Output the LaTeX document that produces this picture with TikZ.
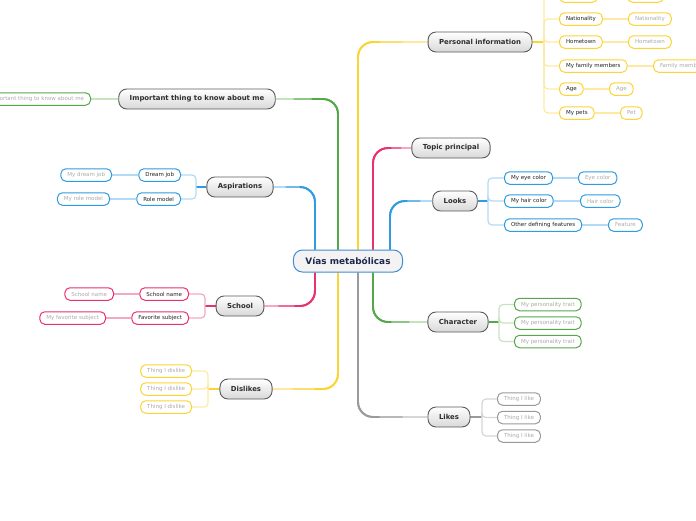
\documentclass[tikz,border=0pt]{standalone}
\usepackage{fontspec}
\setmainfont{DejaVu Sans}
\usetikzlibrary{backgrounds}
\definecolor{ylw}{HTML}{FBD535}
\definecolor{ylwL}{HTML}{FDE9A4}
\definecolor{grn}{HTML}{55A84A}
\definecolor{grnL}{HTML}{C6E3BF}
\definecolor{blu}{HTML}{2F9BE0}
\definecolor{bluL}{HTML}{B2DAF6}
\definecolor{pnk}{HTML}{E8316E}
\definecolor{pnkL}{HTML}{F6A8C3}
\definecolor{gry}{HTML}{9A9A9A}
\definecolor{gryL}{HTML}{D6D6D6}
\definecolor{mainBd}{HTML}{5A5A5A}
\definecolor{mainBot}{HTML}{D8D8D8}
\definecolor{mainTxt}{HTML}{2E2E2E}
\definecolor{subTxt}{HTML}{222222}
\definecolor{leafTxt}{HTML}{ABABAB}
\definecolor{cenBd}{HTML}{3C8FD2}
\definecolor{cenFill}{HTML}{F4F2F2}
\definecolor{cenTxt}{HTML}{1B2A4E}
\tikzset{
  mainbox/.style={rounded corners=8, draw=mainBd, top color=white, bottom color=mainBot,
    line width=0.9, font=\fontsize{6.9}{8}\selectfont\bfseries, text=mainTxt,
    inner xsep=11, inner ysep=0, minimum height=20},
  cenbox/.style={rounded corners=9, draw=cenBd, fill=cenFill, line width=1,
    font=\fontsize{8.9}{10}\selectfont\bfseries, text=cenTxt, inner xsep=12, minimum height=22, inner ysep=0},
  subbox/.style={rounded corners=5, draw=#1, fill=white, line width=1,
    font=\fontsize{5.5}{6}\selectfont, text=subTxt, inner xsep=6.5, inner ysep=0, minimum height=12.5},
  leafbox/.style={subbox=#1, text=leafTxt},
  trunk/.style={line width=1.9, rounded corners=15},
  twig/.style={line width=1.2, rounded corners=4},
}
% three-step trunk: light, mid, strong
\newcommand{\mytrunk}[4]{%
  \draw[trunk, #1L] #2;
  \draw[trunk, #1!50!#1L, shorten >=#3] #2;
  \draw[trunk, #1, shorten >=#4] #2;}
\begin{document}
\begin{tikzpicture}[x=1pt,y=-1pt]
\useasboundingbox (0,0) rectangle (696,520);
\clip (0,0) rectangle (696,520);
% central and main nodes
\node[cenbox] (c) at (348,261) {Vías metabólicas};
\node[mainbox] (pi) at (480,42) {Personal information};
\node[mainbox] (imp) at (197,99) {Important thing to know about me};
\node[mainbox] (top) at (451,148) {Topic principal};
\node[mainbox] (asp) at (240,187) {Aspirations};
\node[mainbox] (lk) at (455,201) {Looks};
\node[mainbox] (sch) at (240,306) {School};
\node[mainbox] (chr) at (458,322) {Character};
\node[mainbox] (dis) at (246,389) {Dislikes};
\node[mainbox] (lik) at (449,417) {Likes};
% spine coordinates for trunks
\coordinate (s315) at (315,0);
\coordinate (s338) at (338,0);
\coordinate (s358) at (358,0);
\coordinate (s373) at (373,0);
\coordinate (s390) at (390,0);
% Personal information children
\coordinate (spPI) at (544,42);
\node[subbox=ylw, anchor=west, minimum width=38] (pi0) at (559,-4) {};
\node[leafbox=ylw, anchor=west, minimum width=36] (pi0l) at (627,-4) {};
\node[subbox=ylw, anchor=west] (pi1) at (559,19) {Nationality};
\node[leafbox=ylw, anchor=west] (pi1l) at (628,19) {Nationality};
\node[subbox=ylw, anchor=west] (pi2) at (559,42) {Hometown};
\node[leafbox=ylw, anchor=west] (pi2l) at (628,42) {Hometown};
\node[subbox=ylw, anchor=west] (pi3) at (559,66) {My family members};
\node[leafbox=ylw, anchor=west] (pi3l) at (653,66) {Family members};
\node[subbox=ylw, anchor=west] (pi4) at (559,89) {Age};
\node[leafbox=ylw, anchor=west] (pi4l) at (609,89) {Age};
\node[subbox=ylw, anchor=west] (pi5) at (559,113) {My pets};
\node[leafbox=ylw, anchor=west] (pi5l) at (620,113) {Pet};
% Important
\node[leafbox=grn, anchor=east] (impl) at (91,99) {Important thing to know about me};
% Aspirations
\coordinate (spAS) at (196,187);
\node[subbox=blu, anchor=east] (as1) at (181,175) {Dream job};
\node[leafbox=blu, anchor=east] (as1l) at (112,175) {My dream job};
\node[subbox=blu, anchor=east] (as2) at (181,199) {Role model};
\node[leafbox=blu, anchor=east] (as2l) at (110,199) {My role model};
% School
\coordinate (spSC) at (205,306);
\node[subbox=pnk, anchor=east] (sc1) at (189,294) {School name};
\node[leafbox=pnk, anchor=east] (sc1l) at (114,294) {School name};
\node[subbox=pnk, anchor=east] (sc2) at (189,318) {Favorite subject};
\node[leafbox=pnk, anchor=east] (sc2l) at (106,318) {My favorite subject};
% Dislikes
\coordinate (spDI) at (208,389);
\node[leafbox=ylw, anchor=east] (di1) at (192,371) {Thing I dislike};
\node[leafbox=ylw, anchor=east] (di2) at (192,389) {Thing I dislike};
\node[leafbox=ylw, anchor=east] (di3) at (192,407) {Thing I dislike};
% Looks
\coordinate (spLK) at (488,201);
\node[subbox=blu, anchor=west] (lk1) at (504,178) {My eye color};
\node[leafbox=blu, anchor=west] (lk1l) at (578,178) {Eye color};
\node[subbox=blu, anchor=west] (lk2) at (504,201) {My hair color};
\node[leafbox=blu, anchor=west] (lk2l) at (580,201) {Hair color};
\node[subbox=blu, anchor=west] (lk3) at (504,225) {Other defining features};
\node[leafbox=blu, anchor=west] (lk3l) at (608,225) {Feature};
% Character
\coordinate (spCH) at (499,322);
\node[leafbox=grn, anchor=west] (ch1) at (514,304.5) {My personality trait};
\node[leafbox=grn, anchor=west] (ch2) at (514,323) {My personality trait};
\node[leafbox=grn, anchor=west] (ch3) at (514,341.5) {My personality trait};
% Likes
\coordinate (spLI) at (482,417);
\node[leafbox=gry, anchor=west] (li1) at (497,399) {Thing I like};
\node[leafbox=gry, anchor=west] (li2) at (497,417.5) {Thing I like};
\node[leafbox=gry, anchor=west] (li3) at (497,436) {Thing I like};

\begin{scope}[on background layer]
\mytrunk{ylw}{(c.north -| s358) |- (pi.west)}{25}{48}
\mytrunk{gry}{(c.south -| s358) |- (lik.west)}{25}{48}
\mytrunk{pnk}{(c.north -| s373) |- (top.west)}{10}{20}
\mytrunk{grn}{(c.south -| s373) |- (chr.west)}{18}{36}
\mytrunk{blu}{(c.north -| s390) |- (lk.west)}{12}{25}
\mytrunk{grn}{(c.north -| s338) |- (imp.east)}{18}{36}
\mytrunk{ylw}{(c.south -| s338) |- (dis.east)}{20}{42}
\mytrunk{blu}{(c.north -| s315) |- (asp.east)}{12}{26}
\mytrunk{pnk}{(c.south -| s315) |- (sch.east)}{14}{30}
% Personal information twigs
\draw[twig, ylw] (pi.east) -- (spPI);
\foreach \n in {pi0,pi1,pi2,pi3,pi4,pi5} \draw[twig, ylwL] (spPI) |- (\n.west);
\foreach \n in {pi0,pi1,pi2,pi3,pi4,pi5} \draw[twig, ylwL] (\n.east) -- (\n l.west);
% Important
\draw[twig, grnL] (imp.west) -- (impl.east);
% Aspirations
\draw[twig, blu] (asp.west) -- (spAS);
\foreach \n in {as1,as2} \draw[twig, bluL] (spAS) |- (\n.east);
\foreach \n in {as1,as2} \draw[twig, bluL] (\n.west) -- (\n l.east);
% School
\draw[twig, pnk] (sch.west) -- (spSC);
\foreach \n in {sc1,sc2} \draw[twig, pnkL] (spSC) |- (\n.east);
\foreach \n in {sc1,sc2} \draw[twig, pnkL] (\n.west) -- (\n l.east);
% Dislikes
\draw[twig, ylw] (dis.west) -- (spDI);
\foreach \n in {di1,di2,di3} \draw[twig, ylwL] (spDI) |- (\n.east);
% Looks
\draw[twig, blu] (lk.east) -- (spLK);
\foreach \n in {lk1,lk2,lk3} \draw[twig, bluL] (spLK) |- (\n.west);
\foreach \n in {lk1,lk2,lk3} \draw[twig, bluL] (\n.east) -- (\n l.west);
% Character
\draw[twig, grn] (chr.east) -- (spCH);
\foreach \n in {ch1,ch2,ch3} \draw[twig, grnL] (spCH) |- (\n.west);
% Likes
\draw[twig, gry] (lik.east) -- (spLI);
\foreach \n in {li1,li2,li3} \draw[twig, gryL] (spLI) |- (\n.west);
\end{scope}
\end{tikzpicture}
\end{document}
